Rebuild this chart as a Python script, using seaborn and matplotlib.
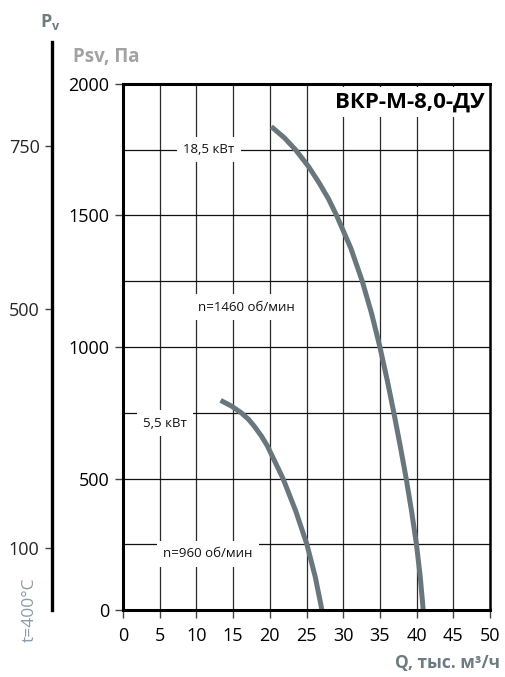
import matplotlib
matplotlib.use("Agg")
import matplotlib.pyplot as plt
import seaborn as sns
import pandas as pd

# ---- data ----
p_1460 = [1838, 1795, 1750, 1687, 1625, 1562, 1500, 1375, 1250, 1125, 1000, 875, 750,
          625, 500, 375, 250, 125, 0]
q_1460 = [20.2, 22.0, 23.5, 25.26, 26.7, 28.02, 29.1, 31.05, 32.6, 33.89, 35.0, 35.99, 36.9,
          37.76, 38.58, 39.32, 39.98, 40.5, 40.9]
p_960 = [797, 775, 750, 725, 700, 662, 625, 500, 375, 250, 125, 0]
q_960 = [13.3, 14.8, 16.1, 17.1, 17.85, 18.84, 19.65, 21.8, 23.55, 25.05, 26.2, 27.1]

x_ticks = [0, 5, 10, 15, 20, 25, 30, 35, 40, 45, 50]
y_ticks = [0, 500, 1000, 1500, 2000]
y_grid = [250, 500, 750, 1000, 1250, 1500, 1750]
pv_tick_labels = ["750", "500", "100"]
pv_tick_pos = [1765, 1145, 235]  # positions on the Psv scale

title = "ВКР-М-8,0-ДУ"
labels = [
    ("18,5 кВт", 11.7, 1750),
    ("n=1460 об/мин", 16.8, 1152),
    ("5,5 кВт", 5.7, 711),
    ("n=960 об/мин", 11.6, 213),
]

df = pd.concat([
    pd.DataFrame({"Q": q_1460, "P": p_1460, "n": "1460"}),
    pd.DataFrame({"Q": q_960, "P": p_960, "n": "960"}),
])

sns.set_style("white")
plt.rcParams["font.family"] = ["Open Sans", "DejaVu Sans"]

W, H = 505, 677
fig = plt.figure(figsize=(W / 100, H / 100), dpi=100)
x0, x1, y0, y1 = 123, 490, 610, 84
ax = fig.add_axes([x0 / W, (H - y0) / H, (x1 - x0) / W, (y0 - y1) / H])

ax.set_xlim(0, 50)
ax.set_ylim(0, 2000)

# grid
for xv in x_ticks[1:-1]:
    ax.axvline(xv, color="#2a2a2a", lw=0.9, zorder=1)
for yv in y_grid:
    ax.axhline(yv, color="#111111", lw=0.9, zorder=1)

sns.lineplot(data=df, x="Q", y="P", units="n", estimator=None, sort=False,
             color="#69777d", lw=3.6, ax=ax, zorder=5, legend=False,
             solid_joinstyle="round", solid_capstyle="butt")

for txt, xv, yv in labels:
    ax.text(xv, yv, txt, fontsize=9.5, ha="center", va="center", color="#111111",
            zorder=4, bbox=dict(facecolor="white", edgecolor="none", pad=4.5))

ax.text(0.985, 0.966, title, transform=ax.transAxes, fontsize=16, fontweight="bold",
        ha="right", va="center", color="black", zorder=4,
        bbox=dict(facecolor="white", edgecolor="none", pad=3))

ax.set_xticks(x_ticks)
ax.set_yticks(y_ticks)
ax.set_xticklabels([str(v) for v in x_ticks])
ax.set_yticklabels([str(v) for v in y_ticks])
ax.tick_params(axis="both", which="major", direction="out", length=6, width=1,
               color="#444444", labelsize=13, labelcolor="black", pad=4)
ax.tick_params(axis="x", bottom=True, pad=6)
ax.tick_params(axis="y", left=True)
ax.set_xlabel("")
ax.set_ylabel("")
for side, lw in [("left", 2.2), ("bottom", 2.2), ("top", 2.2), ("right", 1.8)]:
    ax.spines[side].set_visible(True)
    ax.spines[side].set_linewidth(lw)
    ax.spines[side].set_color("black")
    ax.spines[side].set_zorder(6)

# Pv axis
pv_x, pv_top = 52, 42
ppu = (y0 - y1) / 2000.0
axp = fig.add_axes([pv_x / W, (H - y0) / H, 0.001, (y0 - pv_top) / H])
axp.set_ylim(0, (y0 - pv_top) / ppu)
axp.set_xticks([])
axp.set_yticks(pv_tick_pos)
axp.set_yticklabels(pv_tick_labels)
axp.tick_params(axis="y", direction="out", length=5, width=1, color="#444444",
                labelsize=13, pad=4, left=True)
for side in ["right", "top", "bottom"]:
    axp.spines[side].set_visible(False)
axp.spines["left"].set_linewidth(2.4)
axp.spines["left"].set_color("black")
axp.patch.set_alpha(0)

# axis titles
fig.text(73 / W, 1 - 57 / H, "Psv, Па", fontsize=13.5, fontweight="bold",
         color="#a2a2a2", ha="left", va="center")
fig.text(40 / W, 1 - 22 / H, r"P$_\mathregular{v}$", fontsize=13, fontweight="bold",
         color="#6e7b81", ha="left", va="center")
fig.text(500 / W, 1 - 663 / H, "Q, тыс. м³/ч", fontsize=12.5, fontweight="bold",
         color="#6e7b81", ha="right", va="center")
fig.text(30 / W, 1 - 610 / H, "t=400°C", fontsize=12.5, rotation=90,
         color="#8c9ca6", ha="center", va="center")

fig.savefig("out.png", dpi=100)
